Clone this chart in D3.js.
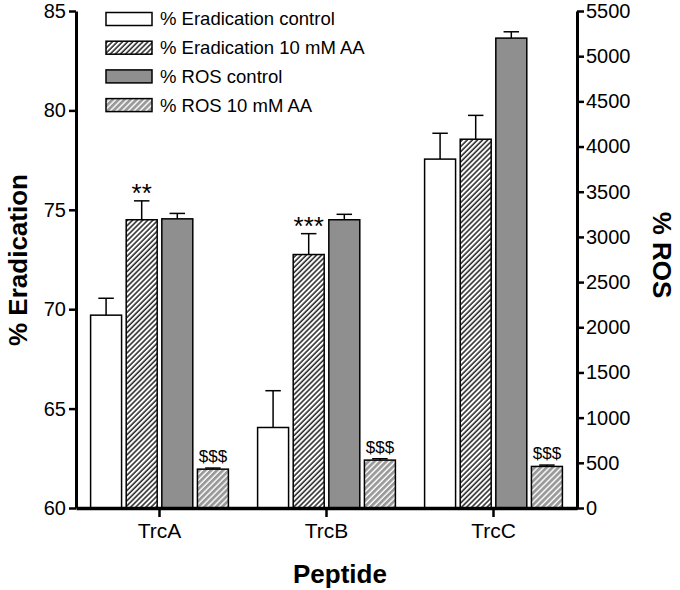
<!DOCTYPE html>
<html><head><meta charset="utf-8">
<script src="https://cdn.jsdelivr.net/npm/d3@7"></script>
<style>
body{margin:0;background:#fff;}
svg{display:block;font-family:"Liberation Sans",Arial,Helvetica,sans-serif;}
</style></head>
<body>
<svg id="chart" width="680" height="590"></svg>
<script>
const categories = ["TrcA", "TrcB", "TrcC"];
const seriesNames = ["% Eradication control", "% Eradication 10 mM AA", "% ROS control", "% ROS 10 mM AA"];
const eradControl = [69.7, 64.05, 77.55];
const eradControlErr = [0.85, 1.85, 1.3];
const eradAA = [74.5, 72.75, 78.55];
const eradAAErr = [0.95, 1.05, 1.2];
const rosControl = [3200, 3190, 5200];
const rosControlErr = [60, 60, 70];
const rosAA = [430, 530, 460];
const rosAAErr = [12, 15, 15];
const leftTicks = [60, 65, 70, 75, 80, 85];
const rightTicks = [0, 500, 1000, 1500, 2000, 2500, 3000, 3500, 4000, 4500, 5000, 5500];
const eradStars = ["**", "***", ""];
const rosMarks = ["$$$", "$$$", "$$$"];

const svg = d3.select("#chart");
const L = 76, R = 577, T = 11, B = 508;

const defs = svg.append("defs");
const p1 = defs.append("pattern").attr("id", "hatchBlack").attr("patternUnits", "userSpaceOnUse")
  .attr("width", 3.6).attr("height", 3.6).attr("patternTransform", "rotate(45)");
p1.append("rect").attr("width", 3.6).attr("height", 3.6).attr("fill", "#fff");
p1.append("line").attr("x1", 1).attr("y1", 0).attr("x2", 1).attr("y2", 3.6).attr("stroke", "#000").attr("stroke-width", 1.3);
const p2 = defs.append("pattern").attr("id", "hatchGray").attr("patternUnits", "userSpaceOnUse")
  .attr("width", 4.2).attr("height", 4.2).attr("patternTransform", "rotate(45)");
p2.append("rect").attr("width", 4.2).attr("height", 4.2).attr("fill", "#9a9a9a");
p2.append("line").attr("x1", 1).attr("y1", 0).attr("x2", 1).attr("y2", 4.2).attr("stroke", "#fff").attr("stroke-width", 1.4);

const fills = ["#ffffff", "url(#hatchBlack)", "#8f8f8f", "url(#hatchGray)"];

const x0 = d3.scaleBand().domain(categories).range([L, R]).padding(0);
const x1 = d3.scaleBand().domain(seriesNames).range([0, x0.bandwidth()]).paddingInner(0.13).paddingOuter(0.41);
const yL = d3.scaleLinear().domain([60, 85]).range([B, T]);
const yR = d3.scaleLinear().domain([0, 5500]).range([B, T]);

const seriesData = [
  {vals: eradControl, errs: eradControlErr, scale: yL, ann: null},
  {vals: eradAA, errs: eradAAErr, scale: yL, ann: eradStars},
  {vals: rosControl, errs: rosControlErr, scale: yR, ann: null},
  {vals: rosAA, errs: rosAAErr, scale: yR, ann: rosMarks}
];

const bw = x1.bandwidth();
seriesData.forEach((s, si) => {
  const g = svg.append("g");
  categories.forEach((c, ci) => {
    const xb = x0(c) + x1(seriesNames[si]);
    const cx = xb + bw / 2;
    const yTop = s.scale(s.vals[ci]);
    const yErr = s.scale(s.vals[ci] + s.errs[ci]);
    g.append("line").attr("x1", cx).attr("x2", cx).attr("y1", yTop).attr("y2", yErr)
      .attr("stroke", "#000").attr("stroke-width", 1.5);
    g.append("line").attr("x1", cx - bw / 4).attr("x2", cx + bw / 4).attr("y1", yErr).attr("y2", yErr)
      .attr("stroke", "#000").attr("stroke-width", 1.5);
    g.append("rect").attr("x", xb).attr("y", yTop).attr("width", bw).attr("height", B - yTop)
      .attr("fill", fills[si]).attr("stroke", "#000").attr("stroke-width", 1.5);
    if (s.ann && s.ann[ci]) {
      const isStar = s.ann[ci].indexOf("*") >= 0;
      g.append("text").attr("x", cx).attr("y", yErr - (isStar ? 1 : 6))
        .attr("text-anchor", "middle")
        .attr("font-size", isStar ? 26 : 17)
        .attr("dy", isStar ? "0.1em" : "0")
        .text(s.ann[ci]);
    }
  });
});

// Axes
const axL = svg.append("g").attr("transform", `translate(${L},0)`)
  .call(d3.axisLeft(yL).tickValues(leftTicks).tickSize(7).tickPadding(3).tickSizeOuter(0));
const axR = svg.append("g").attr("transform", `translate(${R},0)`)
  .call(d3.axisRight(yR).tickValues(rightTicks).tickFormat(d3.format("d")).tickSize(7).tickPadding(2).tickSizeOuter(0));
const axB = svg.append("g").attr("transform", `translate(0,${B})`)
  .call(d3.axisBottom(x0).tickSize(9).tickPadding(6).tickSizeOuter(0));
[axL, axR].forEach(a => {
  a.select(".domain").attr("stroke-width", 3).attr("stroke", "#000");
  a.selectAll(".tick line").attr("stroke-width", 2.5);
  a.selectAll(".tick text").attr("font-size", 20).attr("fill", "#000")
    .attr("font-family", "'Liberation Sans',Arial,sans-serif");
});
axB.select(".domain").attr("stroke-width", 3.5).attr("stroke", "#000");
axB.selectAll(".tick line").attr("stroke-width", 2.5);
axB.selectAll(".tick text").attr("font-size", 21).attr("fill", "#000")
  .attr("font-family", "'Liberation Sans',Arial,sans-serif");

// Axis titles
svg.append("text").attr("x", 340).attr("y", 583).attr("text-anchor", "middle")
  .attr("font-size", 26).attr("font-weight", "bold").text("Peptide");
svg.append("text").attr("transform", "translate(27,260) rotate(-90)").attr("text-anchor", "middle")
  .attr("font-size", 26).attr("font-weight", "bold").text("% Eradication");
svg.append("text").attr("transform", "translate(653,255) rotate(90)").attr("text-anchor", "middle")
  .attr("font-size", 26).attr("font-weight", "bold").text("% ROS");

// Legend
const leg = svg.append("g");
seriesNames.forEach((n, i) => {
  const yc = 19 + i * 28.7;
  leg.append("rect").attr("x", 106).attr("y", yc - 6.5).attr("width", 46).attr("height", 13)
    .attr("fill", fills[i]).attr("stroke", "#000").attr("stroke-width", 1.5);
  leg.append("text").attr("x", 160).attr("y", yc).attr("dy", "0.35em")
    .attr("font-size", 18.5).text(n);
});
</script>
</body></html>
